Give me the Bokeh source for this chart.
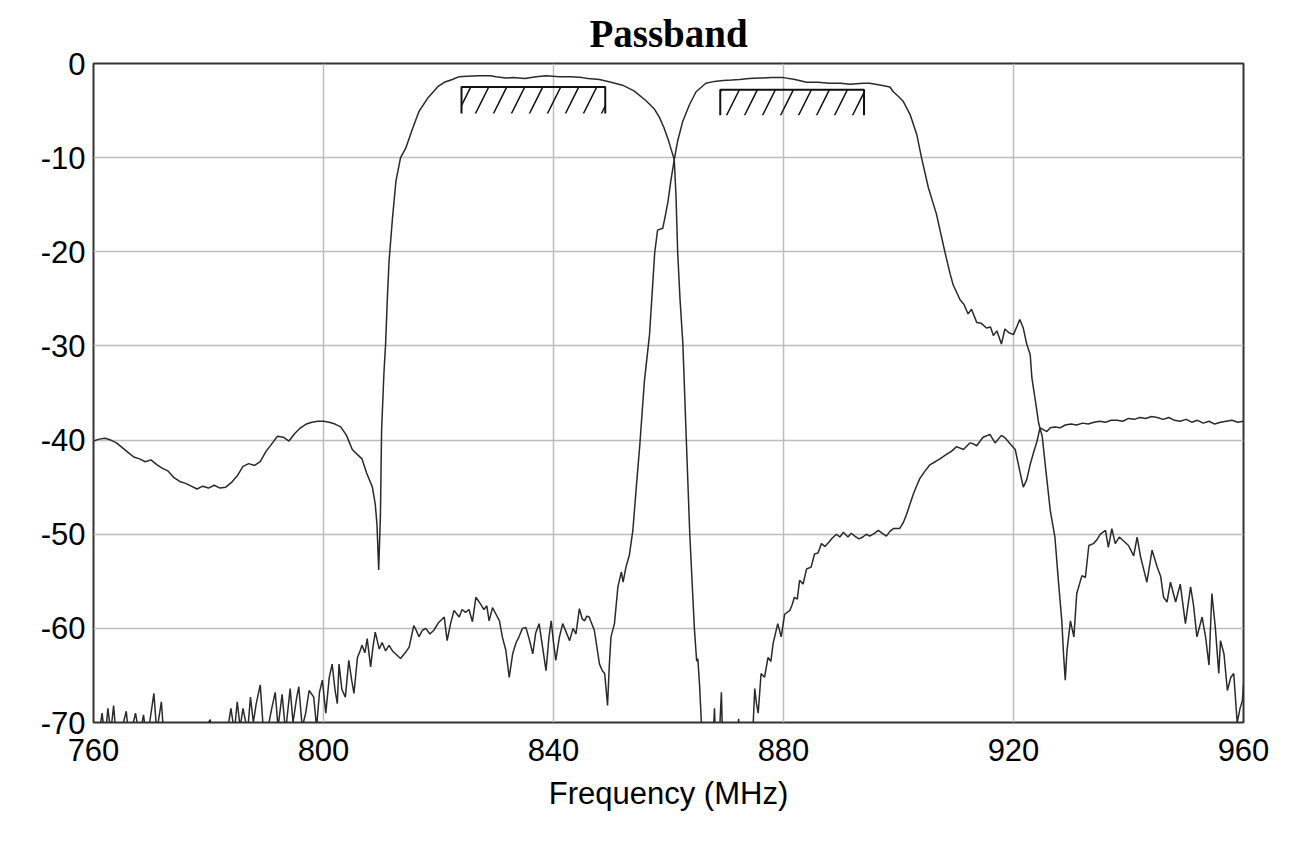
from bokeh.plotting import figure
from bokeh.models import FixedTicker, Range1d, ColumnDataSource
from bokeh.embed import file_html
from bokeh.resources import INLINE

# ---------------- data ----------------
tick_x = [760, 800, 840, 880, 920, 960]
tick_y = [0, -10, -20, -30, -40, -50, -60, -70]

lowband_mhz = [760, 761, 762, 763, 764, 765, 766, 767, 768, 769, 770, 771, 772, 773, 774, 775, 776, 777, 778, 779,
               780, 781, 782, 783, 784, 785, 786, 787, 788, 789, 790, 791, 792, 793, 794, 795, 796, 797, 798, 799,
               800, 801, 802, 803, 804, 805, 806, 806.7, 807.5, 808.5, 809, 809.3, 809.6, 809.9, 810.1, 810.5, 810.8,
               811.1, 811.4, 812.0, 812.6, 813.4, 814.3, 815.5, 816.6, 818.1, 820, 821, 822.4, 823.6, 825, 827, 829,
               830, 831.7, 833, 835, 837, 838.7, 841, 843, 845, 846, 848, 850, 852, 854, 856, 857.5, 858.4, 859.2,
               859.9, 860.5, 861.0, 861.3, 861.6, 862.0, 862.5, 863.1, 863.7, 864.1, 864.5, 864.9, 865.1, 865.4,
               865.8, 866.5, 867.5, 868.0, 868.3, 868.8, 869.2, 869.5, 870.5, 871.5, 872.2, 872.6, 874, 874.7, 875.0,
               875.3, 875.6, 876.1, 876.7, 877.3, 877.8, 878.2, 879.0, 879.6, 880.2, 881.1, 881.5, 881.9, 882.4,
               882.8, 883.4, 884.0, 884.8, 885.4, 886.0, 886.6, 887.2, 887.8, 888.5, 889.2, 889.8, 890.4, 891.2,
               891.8, 892.4, 893.1, 893.8, 894.4, 895.0, 895.8, 896.5, 897.2, 897.9, 898.5, 899.1, 900.2, 900.8,
               901.4, 902.0, 902.6, 903.2, 903.7, 904.6, 905.5, 906.4, 907.2, 908.4, 909.2, 910.1, 911.3, 912.4,
               913.0, 913.6, 914.7, 915.9, 916.8, 917.9, 918.6, 919.4, 920.3, 921.1, 921.7, 922.3, 922.9, 923.5,
               924.1, 924.6, 925.2, 925.8, 926.4, 927.2, 928.1, 929, 930, 931, 932, 933, 934, 935, 936, 937, 938,
               939, 940, 941, 942, 943, 944, 945, 946, 947, 948, 949, 950, 951, 952, 953, 954, 955, 956, 957, 958,
               959, 960]
lowband_db = [-40.1, -39.9, -39.8, -40.0, -40.3, -40.8, -41.3, -41.8, -42.0, -42.3, -42.1, -42.6, -43.0, -43.3,
              -44.0, -44.4, -44.6, -44.9, -45.2, -44.9, -45.1, -44.8, -45.1, -45.0, -44.5, -43.8, -42.8, -42.5,
              -42.7, -42.3, -41.2, -40.4, -39.6, -39.7, -40.1, -39.3, -38.7, -38.3, -38.1, -38.0, -38.0, -38.1,
              -38.3, -38.6, -39.5, -41.0, -41.6, -42.0, -43.5, -45.0, -46.8, -49.0, -53.8, -48.0, -39.0, -33.0,
              -29.8, -25.0, -21.0, -16.4, -12.5, -10.0, -9.0, -6.9, -5.1, -3.7, -2.4, -2.0, -1.7, -1.4, -1.35,
              -1.3, -1.3, -1.4, -1.55, -1.5, -1.6, -1.4, -1.3, -1.4, -1.4, -1.5, -1.6, -1.7, -2.0, -2.3, -2.9,
              -3.9, -4.8, -5.7, -6.8, -8.0, -9.2, -10.2, -14.0, -20.1, -25.0, -29.8, -40.0, -50.0, -55.0, -60.0,
              -63.5, -63.2, -66.0, -71.0, -74.0, -75.0, -68.5, -74.0, -72.0, -66.8, -74.0, -76.0, -75.0, -69.6,
              -75.0, -75.0, -70.5, -66.4, -68.0, -69.0, -64.8, -65.2, -63.1, -63.5, -61.6, -59.5, -60.9, -58.5,
              -58.1, -57.5, -56.7, -56.9, -54.9, -55.3, -53.7, -53.5, -52.1, -52.0, -51.0, -51.3, -50.9, -50.4,
              -50.0, -50.3, -49.8, -50.3, -49.9, -50.2, -50.5, -50.3, -50.0, -50.2, -49.9, -49.6, -49.9, -50.2,
              -49.7, -49.4, -49.4, -48.8, -47.9, -46.8, -45.7, -44.8, -44.1, -43.3, -42.6, -42.3, -42.0, -41.5,
              -41.2, -40.7, -41.0, -40.3, -40.4, -40.6, -39.7, -39.4, -40.3, -39.5, -39.8, -40.4, -41.0, -43.3,
              -45.0, -44.2, -42.6, -41.3, -40.1, -38.7, -38.9, -39.1, -38.7, -38.6, -38.7, -38.4, -38.3, -38.4,
              -38.2, -38.3, -38.1, -38.0, -38.1, -37.9, -37.9, -38.0, -37.7, -37.8, -37.6, -37.7, -37.5, -37.6,
              -37.8, -37.6, -37.9, -38.0, -37.8, -38.1, -37.9, -38.2, -38.0, -38.3, -38.1, -38.0, -37.9, -38.1,
              -38.0]

highband_mhz = [760, 761, 761.5, 762, 762.5, 763, 763.5, 764, 765, 765.7, 766.2, 767.3, 768, 768.7, 769.3, 770.5,
                771, 771.8, 772.3, 774, 777, 780.3, 781, 783, 783.9, 784.5, 785, 785.5, 786, 786.8, 787.3, 787.8,
                788.3, 789.0, 789.5, 790.2, 791.0, 791.6, 792.1, 792.8, 793.4, 794.2, 794.7, 795.3, 795.7, 796.3,
                796.9, 797.5, 798.3, 798.8, 799.3, 799.8, 800.4, 801.0, 801.5, 802.0, 802.4, 802.7, 803.2, 803.8,
                804.4, 804.9, 805.3, 805.9, 806.3, 806.7, 807.2, 807.6, 808.2, 808.6, 809.0, 809.7, 810.2, 810.8,
                811.4, 812.0, 812.7, 813.4, 814.2, 814.9, 815.7, 816.2, 816.6, 817.2, 817.8, 818.5, 819.2, 820.0,
                821.0, 821.5, 822.1, 822.7, 823.6, 824.1, 824.7, 825.3, 825.9, 826.5, 827.3, 827.9, 828.4, 828.8,
                829.4, 830.0, 830.6, 831.1, 831.7, 832.3, 832.9, 833.5, 834.0, 834.6, 835.2, 835.8, 836.4, 836.9,
                837.5, 838.1, 838.7, 839.2, 839.6, 840.0, 840.4, 841.0, 841.6, 842.2, 842.8, 843.4, 843.9, 844.5,
                845.0, 845.4, 845.8, 846.2, 847.1, 848.0, 848.5, 848.9, 849.4, 849.7, 850.0, 850.6, 851.2, 851.8,
                852.1, 852.6, 853.2, 853.8, 854.4, 855.0, 855.8, 856.7, 857.6, 858.1, 859.0, 859.5, 859.9, 860.4,
                861.0, 861.6, 862.5, 863.7, 864.8, 866.5, 868, 869.5, 871, 872.4, 874, 875.9, 878, 880, 882, 884,
                886, 888, 890, 891.5, 893.9, 895, 897, 898.5, 899.1, 900.0, 900.8, 902.0, 903.2, 904.0, 905.2,
                906.6, 908.1, 909.0, 909.5, 910.7, 911.4, 912.1, 912.7, 913.6, 914.4, 915.3, 916.0, 916.5, 917.1,
                917.9, 918.5, 919.2, 920.0, 921.1, 921.7, 922.3, 922.9, 923.2, 923.8, 924.4, 925.0, 925.5, 926.4,
                927.2, 927.8, 928.4, 928.7, 929.0, 929.3, 929.9, 930.5, 931.0, 931.9, 932.5, 933.1, 933.9, 934.5,
                935.1, 936.0, 936.5, 937.1, 937.7, 938.4, 939.1, 940.0, 940.9, 941.5, 942.1, 943.2, 944.1, 945.0,
                945.6, 946.1, 946.7, 947.3, 948.2, 949.0, 949.9, 950.8, 951.3, 951.9, 952.8, 953.4, 954.0, 954.5,
                955.1, 955.7, 956.0, 956.6, 957.2, 957.8, 958.3, 958.9, 959.4, 959.8, 960]
highband_db = [-73.0, -71.0, -69.0, -72.0, -68.5, -71.0, -68.2, -72.0, -70.5, -68.8, -72.0, -69.0, -71.5, -69.2,
               -72.0, -66.9, -71.0, -67.8, -72.0, -74.0, -73.0, -69.7, -73.0, -72.0, -68.5, -71.0, -67.8, -70.5,
               -68.5, -71.0, -67.3, -70.0, -68.0, -66.0, -70.5, -71.0, -68.5, -66.8, -70.5, -67.0, -71.0, -66.4,
               -70.0, -67.5, -66.2, -70.5, -69.0, -66.6, -67.3, -70.5, -66.8, -65.5, -69.0, -65.2, -63.8, -66.5,
               -68.0, -63.8, -66.5, -67.3, -63.4, -65.5, -66.9, -63.1, -62.5, -61.8, -62.6, -61.1, -64.1, -62.0,
               -60.4, -62.2, -61.5, -62.4, -61.8, -62.4, -62.8, -63.2, -62.6, -62.0, -59.7, -60.3, -60.9, -60.2,
               -60.0, -60.6, -60.2, -59.4, -58.8, -61.3, -59.5, -58.1, -58.8, -58.0, -58.3, -58.0, -59.3, -56.7,
               -57.4, -58.0, -57.6, -59.2, -57.8, -58.5, -59.2, -60.9, -62.3, -65.2, -62.7, -61.5, -60.9, -60.0,
               -59.9, -61.2, -62.7, -60.5, -59.5, -62.0, -64.5, -61.0, -59.2, -61.5, -63.4, -61.0, -59.5, -60.4,
               -61.3, -60.0, -60.6, -57.9, -59.0, -59.2, -58.7, -58.8, -60.2, -63.8, -64.5, -64.8, -68.2, -64.0,
               -60.9, -59.5, -55.6, -54.0, -55.1, -53.5, -52.2, -49.6, -45.0, -40.6, -33.8, -28.8, -20.1, -17.7,
               -17.5, -16.0, -14.7, -12.5, -10.2, -8.2, -6.1, -4.3, -3.0, -2.1, -1.9, -1.8, -1.75, -1.7, -1.6,
               -1.55, -1.5, -1.5, -1.7, -2.0, -2.0, -2.1, -2.1, -2.2, -2.1, -2.1, -2.3, -2.5, -3.0, -3.5, -4.0,
               -5.4, -7.6, -10.0, -13.2, -16.0, -20.1, -22.4, -23.5, -25.1, -25.6, -26.6, -26.1, -27.5, -27.6,
               -28.1, -28.0, -28.9, -28.4, -29.8, -28.2, -28.6, -28.8, -27.2, -28.1, -29.8, -30.9, -33.4, -35.8,
               -38.3, -39.6, -42.5, -47.5, -50.3, -54.9, -59.2, -62.7, -65.5, -62.4, -59.2, -60.9, -56.3, -54.4,
               -54.6, -51.2, -51.0, -50.6, -50.0, -49.6, -51.4, -49.4, -51.0, -50.3, -50.7, -51.2, -52.3, -50.3,
               -52.4, -55.1, -51.7, -53.5, -54.5, -56.7, -57.2, -55.1, -57.2, -55.3, -59.5, -55.6, -57.5, -60.9,
               -58.8, -60.9, -63.9, -56.3, -59.9, -64.8, -61.3, -62.7, -66.6, -65.2, -64.8, -70.0, -68.5, -67.7,
               -66.0]

# passband specification boxes
band_lo = [824, 869]
band_hi = [849, 894]
box_top = [-2.5, -2.8]
box_bottom = [-5.3, -5.5]

# ---------------- figure ----------------
p = figure(width=1278, height=838, output_backend="svg", toolbar_location=None,
           x_range=Range1d(760, 960), y_range=Range1d(-70, 0),
           min_border_left=93, min_border_right=35, min_border_top=62, min_border_bottom=116,
           title="Passband")

p.title.align = "center"
p.title.text_font = "Liberation Serif"
p.title.text_font_style = "bold"
p.title.text_font_size = "39px"
p.title.text_color = "black"
p.title.standoff = 18

p.outline_line_color = "#333333"
p.outline_line_width = 2
p.background_fill_color = "white"
p.border_fill_color = "white"

for ax in (p.xaxis[0], p.yaxis[0]):
    ax.axis_line_color = None
    ax.major_tick_line_color = None
    ax.minor_tick_line_color = None
    ax.major_label_text_font = "Liberation Sans"
    ax.major_label_text_font_size = "31px"
    ax.major_label_text_color = "black"

p.xaxis.ticker = FixedTicker(ticks=tick_x)
p.yaxis.ticker = FixedTicker(ticks=tick_y)
p.yaxis.major_label_overrides = {t: str(t) for t in tick_y}
p.xaxis.major_label_overrides = {t: str(t) for t in tick_x}
p.xaxis.major_label_standoff = 10
p.yaxis.major_label_standoff = 2
p.xaxis.axis_label = "Frequency (MHz)"
p.xaxis.axis_label_text_font = "Liberation Sans"
p.xaxis.axis_label_text_font_style = "normal"
p.xaxis.axis_label_text_font_size = "31px"
p.xaxis.axis_label_text_color = "black"
p.xaxis.axis_label_standoff = 12

p.xgrid.ticker = FixedTicker(ticks=tick_x)
p.ygrid.ticker = FixedTicker(ticks=tick_y)
p.grid.grid_line_color = "#bdbdbd"
p.grid.grid_line_width = 1.5

# curves
p.line(lowband_mhz, lowband_db, line_color="#2a2a2a", line_width=1.5)
p.line(highband_mhz, highband_db, line_color="#2a2a2a", line_width=1.5)

# spec boxes: hatching + three-sided outline
box_src = ColumnDataSource(dict(left=band_lo, right=band_hi, top=box_top, bottom=box_bottom))
p.quad(left="left", right="right", top="top", bottom="bottom", source=box_src,
       fill_alpha=0, line_alpha=0, hatch_pattern="/", hatch_color="#111111",
       hatch_weight=1.5, hatch_scale=36)
xs = [[lo, lo, hi, hi] for lo, hi in zip(band_lo, band_hi)]
ys = [[b, t, t, b] for t, b in zip(box_top, box_bottom)]
p.multi_line(xs, ys, line_color="#111111", line_width=2)

open("out.html", "w").write(file_html(p, INLINE))
